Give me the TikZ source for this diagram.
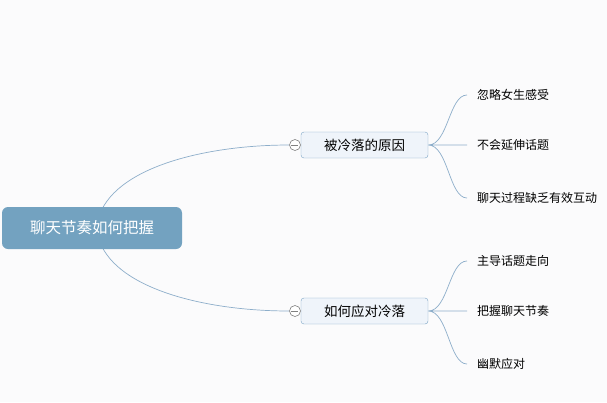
\documentclass[tikz,border=0pt]{standalone}
\usepackage{fontspec}
\setmainfont{Noto Sans CJK SC}
\usetikzlibrary{positioning}
\definecolor{rootblue}{HTML}{73A2C0}
\definecolor{linkblue}{HTML}{8DAECA}
\definecolor{subfill}{HTML}{EFF4FA}
\definecolor{subedge}{HTML}{7BA4C5}
\definecolor{bgpaper}{HTML}{FBFBFC}

\begin{document}
\begin{tikzpicture} [ x=1pt, y=-1pt,
    rootbox/.style={fill=rootblue, text=white, rounded corners=6pt, minimum width=180pt, minimum height=42pt, font=\fontsize{15.5}{15.5}\selectfont},
    subbox/.style={draw=subedge, fill=subfill, rounded corners=3pt, minimum width=127pt, minimum height=26pt, font=\fontsize{13.5}{13.5}\selectfont},
    leaf/.style={anchor=west, inner xsep=10pt, inner ysep=2pt, font=\fontsize{12}{12}\selectfont},
    fold/.style={circle, draw=gray, fill=white, minimum size=11pt, inner sep=0pt, line width=0.6pt},
    link/.style={draw=linkblue, line width=0.7pt},
  ]
    \fill[bgpaper] (0,0) rectangle (607,402);
    \useasboundingbox (0,0) rectangle (607,402);

    \node[subbox] (why) at (364.5,145) {被冷落的原因};
    \node[subbox] (how) at (364.5,311) {如何应对冷落};
    \node[fold] (whyfold) at (295,145) {};
    \node[fold] (howfold) at (295,311) {};
    \draw[gray, line width=0.6pt] (whyfold.west) ++(2,0) -- ++(7,0)
    (howfold.west) ++(2,0) -- ++(7,0);

    \node[leaf] (w1) at (467,95) {忽略女生感受};
    \node[leaf] (w2) at (467,145) {不会延伸话题};
    \node[leaf] (w3) at (467,198) {聊天过程缺乏有效互动};
    \node[leaf] (h1) at (467,261) {主导话题走向};
    \node[leaf] (h2) at (467,311) {把握聊天节奏};
    \node[leaf] (h3) at (467,364) {幽默应对};

    \coordinate (hub) at (97,228);
    \path[link] (hub) ++(0,-3) .. controls (105,170) and (200,145) .. (whyfold.west)
    (hub) ++(0,3) .. controls (105,286) and (200,311) .. (howfold.west)
    ;

    \path[link] (why.east) .. controls +(20,0) and +(-18,0) .. (w1.west)
    (why.east) -- (w2.west)
    (why.east) .. controls +(20,0) and +(-18,0) .. (w3.west)
    (how.east) .. controls +(20,0) and +(-18,0) .. (h1.west)
    (how.east) -- (h2.west)
    (how.east) .. controls +(20,0) and +(-18,0) .. (h3.west)
    ;

    \node[rootbox] (root) at (92,228) {聊天节奏如何把握};
\end{tikzpicture}
\end{document}
